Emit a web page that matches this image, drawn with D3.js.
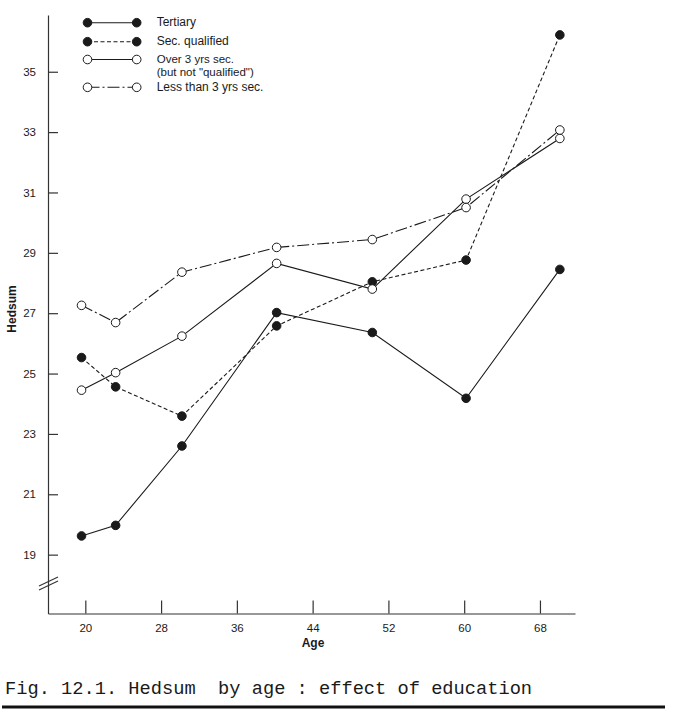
<!DOCTYPE html>
<html>
<head>
<meta charset="utf-8">
<script src="https://cdn.jsdelivr.net/npm/d3@7"></script>
<style>
  html, body { margin: 0; padding: 0; background: #fff; }
  svg { display: block; }
</style>
</head>
<body>
<svg id="chart" width="680" height="718"></svg>
<script>
// ---- Data ----
const ages = [19.6, 23.2, 30.2, 40.2, 50.3, 60.2, 70.1];
const tertiary = [19.62, 19.97, 22.6, 27.02, 26.36, 24.18, 28.45];
const secQualified = [25.53, 24.56, 23.59, 26.58, 28.04, 28.76, 36.22];
const over3 = [24.45, 25.03, 26.24, 28.65, 27.8, 30.78, 32.79];
const less3 = [27.26, 26.69, 28.36, 29.18, 29.44, 30.5, 33.07];
const xTicks = [20, 28, 36, 44, 52, 60, 68];
const yTicks = [19, 21, 23, 25, 27, 29, 31, 33, 35];
const seriesNames = ["Tertiary", "Sec. qualified", "Over 3 yrs sec.", "Less than 3 yrs sec."];
const seriesSub = ["", "", "(but not \"qualified\")", ""];
const caption = "Fig. 12.1. Hedsum  by age : effect of education";

const series = [
  { name: seriesNames[0], sub: seriesSub[0], values: tertiary, filled: true, dash: null },
  { name: seriesNames[1], sub: seriesSub[1], values: secQualified, filled: true, dash: "4,2.5" },
  { name: seriesNames[2], sub: seriesSub[2], values: over3, filled: false, dash: null },
  { name: seriesNames[3], sub: seriesSub[3], values: less3, filled: false, dash: "12,3,2,3" }
];

const svg = d3.select("#chart");
const ink = "#1a1a1a";
const sans = "Liberation Sans, Arial, sans-serif";

const x = d3.scaleLinear().domain([16.06, 71.7]).range([48, 575]);
const y = d3.scaleLinear().domain([17.05, 36.88]).range([613.5, 15]);

// ---- Axes ----
const xAxis = d3.axisBottom(x).tickValues(xTicks).tickSize(-13).tickSizeOuter(0).tickPadding(10);
const gx = svg.append("g").attr("transform", "translate(0,613.5)").call(xAxis);
gx.selectAll("path, line").attr("stroke", "#333").attr("stroke-width", 1.2);
gx.selectAll("text").attr("font-family", sans).attr("font-size", 11.5).attr("fill", ink);

const yAxis = d3.axisLeft(y).tickValues(yTicks).tickSize(-10).tickSizeOuter(0).tickPadding(12);
const gy = svg.append("g").attr("transform", "translate(48,0)").call(yAxis);
gy.selectAll("path, line").attr("stroke", "#333").attr("stroke-width", 1.2);
gy.selectAll("text").attr("font-family", sans).attr("font-size", 11.5).attr("fill", ink);

// axis break marks
const brk = svg.append("g").attr("stroke", "#333").attr("stroke-width", 1.1);
brk.append("line").attr("x1", 39).attr("y1", 590).attr("x2", 58).attr("y2", 581);
brk.append("line").attr("x1", 39).attr("y1", 586).attr("x2", 58).attr("y2", 577);

// axis titles
svg.append("text").attr("x", 313).attr("y", 647)
  .attr("text-anchor", "middle").attr("font-family", sans)
  .attr("font-size", 12).attr("font-weight", "bold").attr("fill", ink).text("Age");
svg.append("text").attr("transform", "translate(16,309) rotate(-90)")
  .attr("text-anchor", "middle").attr("font-family", sans)
  .attr("font-size", 12).attr("font-weight", "bold").attr("fill", ink).text("Hedsum");

// ---- Lines ----
const line = d3.line().x((d, i) => x(ages[i])).y(d => y(d));
series.forEach(s => {
  svg.append("path").datum(s.values)
    .attr("d", line).attr("fill", "none").attr("stroke", ink).attr("stroke-width", 1.1)
    .attr("stroke-dasharray", s.dash);
});
series.forEach(s => {
  svg.append("g").selectAll("circle").data(s.values).join("circle")
    .attr("cx", (d, i) => x(ages[i])).attr("cy", d => y(d)).attr("r", 4.3)
    .attr("fill", s.filled ? ink : "#fff").attr("stroke", ink).attr("stroke-width", 1);
});

// ---- Legend ----
const legRows = [22.7, 41.7, 59.5, 87.3];
const lx1 = 87.5, lx2 = 136.7, tx = 156.7;
const leg = svg.append("g");
series.forEach((s, i) => {
  const ly = legRows[i];
  leg.append("line").attr("x1", lx1).attr("x2", lx2).attr("y1", ly).attr("y2", ly)
    .attr("stroke", ink).attr("stroke-width", 1.1).attr("stroke-dasharray", s.dash);
  [lx1, lx2].forEach(cx => {
    leg.append("circle").attr("cx", cx).attr("cy", ly).attr("r", 4.3)
      .attr("fill", s.filled ? ink : "#fff").attr("stroke", ink).attr("stroke-width", 1);
  });
  leg.append("text").attr("x", tx).attr("y", s.sub ? ly + 3 : ly + 3.5)
    .attr("font-family", sans).attr("font-size", s.sub ? 11.5 : 12).attr("fill", ink)
    .text(s.name);
  if (s.sub) {
    leg.append("text").attr("x", tx).attr("y", ly + 16.2)
      .attr("font-family", sans).attr("font-size", 11.5).attr("fill", ink)
      .text(s.sub);
  }
});

// ---- Caption ----
svg.append("text").attr("x", 5).attr("y", 694)
  .attr("font-family", "Liberation Mono, Courier New, monospace").attr("font-size", 18.7)
  .attr("fill", ink).attr("xml:space", "preserve").style("white-space", "pre").text(caption);
svg.append("line").attr("x1", 2).attr("x2", 665).attr("y1", 707).attr("y2", 707)
  .attr("stroke", "#111").attr("stroke-width", 3);
</script>
</body>
</html>
